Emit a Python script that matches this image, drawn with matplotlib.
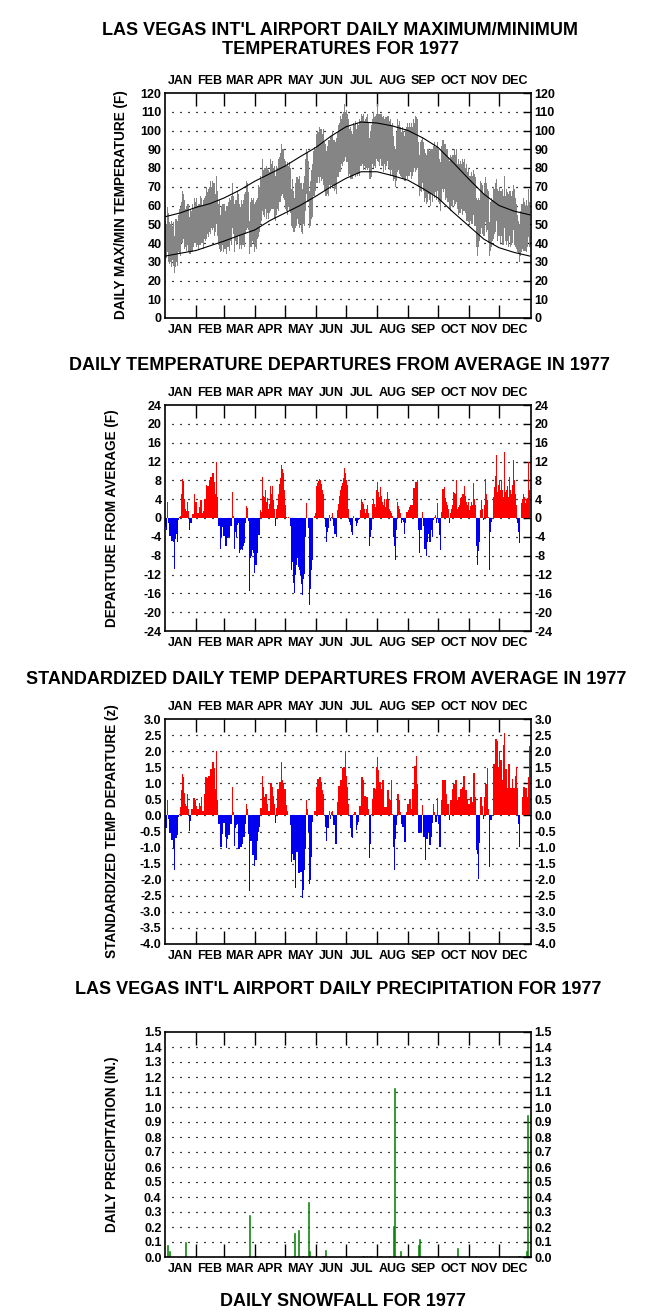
import matplotlib
matplotlib.use("Agg")
import matplotlib.pyplot as plt
import numpy as np

plt.rcParams['font.family'] = ['Liberation Sans', 'DejaVu Sans']
plt.rcParams['font.weight'] = 'bold'

# ---------------- DATA ----------------
MONTHS = ["JAN", "FEB", "MAR", "APR", "MAY", "JUN", "JUL", "AUG", "SEP", "OCT", "NOV", "DEC"]
MONTH_LEN = [31, 28, 31, 30, 31, 30, 31, 31, 30, 31, 30, 31]

# Daily maximum / minimum temperature (F)
TMAX = [
    52,50,59,56,51,50,52,49,51,44,53,53,52,55,58,59,62,68,66,63,58,60,61,61,54,58,57,61,58,64,62,
    64,59,61,61,65,64,60,63,64,65,70,67,69,70,73,70,73,72,72,66,76,68,61,63,55,60,61,61,
    61,57,60,60,62,64,63,65,72,65,61,63,63,68,66,61,59,63,61,63,66,67,73,72,67,52,62,64,63,64,61,
    62,63,64,71,70,76,74,85,79,80,80,81,80,79,78,85,82,84,80,81,76,81,80,85,86,88,93,90,90,85,
    84,81,83,81,83,80,69,74,68,64,72,75,75,74,76,72,72,69,72,76,85,90,88,84,68,73,79,82,89,91,90,
    98,100,99,102,101,101,98,101,94,93,89,92,95,95,97,97,100,95,95,94,96,99,103,104,108,106,109,110,114,110,
    111,109,106,101,102,100,98,104,103,105,101,104,103,106,105,109,108,109,105,106,107,109,104,96,100,103,106,110,107,108,109,
    114,109,109,109,109,107,108,106,107,107,108,108,105,106,103,104,97,92,90,99,106,103,105,102,99,102,100,97,101,102,104,
    102,104,102,104,102,106,104,108,107,106,94,87,94,95,96,94,90,88,87,90,90,89,90,90,90,92,94,91,91,94,
    90,85,83,92,95,95,93,93,90,90,86,84,87,86,87,87,90,87,90,82,85,82,84,82,85,83,85,80,82,78,80,
    76,76,78,76,79,77,75,64,63,64,63,73,72,71,66,72,75,72,69,68,51,62,64,63,70,69,72,74,69,68,
    70,68,68,69,65,76,65,69,67,66,68,68,65,68,71,69,64,61,55,52,50,57,61,61,64,62,60,63,60,69,62,
]
TMIN = [
    31,32,35,30,29,30,27,31,28,24,27,30,28,35,34,33,40,40,42,37,38,36,39,35,34,34,35,35,38,40,40,
    38,39,37,39,39,40,40,37,42,41,42,45,43,46,45,48,47,48,44,46,50,44,39,37,35,36,39,35,
    37,37,34,38,38,36,41,39,48,45,35,41,39,40,44,37,39,37,39,39,38,45,47,48,47,34,38,38,41,40,35,
    38,37,42,43,46,50,52,57,55,54,58,53,56,53,56,57,58,58,58,53,52,55,58,57,62,62,65,66,64,63,
    58,57,55,59,57,56,49,48,46,46,48,49,53,50,48,50,46,45,50,49,57,66,62,62,48,49,53,54,65,65,68,
    72,72,75,72,75,73,74,71,68,65,65,66,65,71,69,71,70,71,68,69,66,75,75,78,78,82,81,83,84,86,
    83,83,76,77,74,74,74,76,77,75,77,76,77,76,81,81,82,79,81,79,80,79,80,74,74,75,82,80,81,80,85,
    84,83,81,85,81,81,78,82,79,81,84,80,79,76,79,76,73,74,70,73,78,79,77,76,75,74,74,73,73,76,74,
    76,76,78,74,76,78,80,78,79,80,70,65,68,67,72,68,62,64,61,62,66,63,60,66,62,66,64,67,63,68,
    62,61,57,62,69,67,69,63,64,62,62,58,57,60,59,63,60,61,62,58,55,56,56,58,55,57,57,56,52,52,51,
    50,52,50,50,55,49,49,38,33,38,41,45,48,45,44,44,51,46,47,40,33,36,38,41,42,45,46,52,41,44,
    44,40,44,39,39,48,41,39,41,38,44,38,39,40,47,39,38,37,35,34,30,33,35,37,36,36,36,35,38,43,38,
]

# Normal max / min temperature curves (day of year, F)
NORM_DAY = [0, 15, 31, 45, 59, 74, 90, 105, 120, 135, 151, 166, 181, 196, 212, 227,
            243, 258, 273, 288, 304, 319, 334, 349, 365]
NORM_MAX = [54, 56, 59, 61, 64, 68, 73, 77, 81, 86, 91, 97, 102, 104.5, 104, 102.5,
            100, 96, 91, 83, 74, 66, 60, 57, 55]
NORM_MIN = [33, 34.5, 36, 38.5, 41, 44, 47, 52, 56, 60, 65, 70, 74.5, 78, 78, 76,
            73.5, 69, 64, 56.5, 49, 42, 37.5, 35, 33]

# Daily mean temperature departure from average (F)
DEP = [
    -2,-2.5,3.4,-1,-3.8,-3.8,-4.8,-4.8,-5,-10.8,-4.5,-3.5,-5,-0.5,0.3,0.5,5.2,8.2,7.8,4,2,1.5,3.4,1.5,-2.5,-1,-1,0.8,0.8,5,3.5,
    3.5,1,1,2.4,3.8,3.8,1,1.5,4,4,7,6.7,6.7,8,8.8,8.8,9.5,9.5,7.7,5.2,12,4.5,-1.7,-1.7,-6.5,-4,-2,-3.8,
    -3.8,-6,-6,-4.3,-4,-4,-1.7,-1.7,5.6,0.5,-6.5,-3,-4,-1.5,-1,-7.4,-6.8,-6.5,-6.7,-6,-5.4,-1.1,2.5,2.2,-0.7,-15.5,-8.6,-8,-6.8,-7.5,-11.6,
    -10,-10,-7.5,-3.6,-3.6,1.6,1.2,8.7,4.7,4.5,6,3.5,4.2,2,3,6.7,5,6.7,3.8,2,-1.8,2,2.8,5,7.2,8.4,11.3,10.5,9.5,6,
    2.8,0.3,0,0.2,0,-1.8,-11,-9.3,-13.8,-16,-12,-10,-8.6,-10.4,-11,-12,-14,-16.4,-13,-11.8,-4,3.1,0,-2.2,-18.5,-15,-11,-9,0,0.5,1,
    6.7,7.5,7.8,8.2,8,7.2,6,5.2,0,-2,-5,-3,-2.2,0.6,-0.6,0.3,1,-1.8,-3.3,-3.5,-4,1.7,3,4.7,6,6.7,7.5,8.4,10.6,9.5,
    8,7,2,-0.8,-1.5,-2.9,-3.6,0.4,0,-0.6,-1.8,-1,-0.5,-0.3,1.7,4,3.5,3,2,1,2,2.8,1,-6,-4,-2.5,3,4,3,2.4,6,
    7.7,5.5,4.5,6.5,4.7,3.5,2.8,4,2.4,4,5.6,3.8,2,1.5,1,0.4,-4,-6,-9,-2.5,3.4,2.5,2,1,-1.1,-0.5,-0.8,-3.3,-1,1.3,1.3,
    1.8,2.4,2.8,2.8,2.8,6.3,6.3,7.7,7.7,8,-2.5,-7.5,-2.5,-2.5,1.3,-1.8,-6.5,-6.5,-8,-5,-3.3,-5,-5,-2.5,-4,-0.5,0.3,0.6,-1.1,3.1,
    -1,-3.6,-6.7,1.3,6.2,6.2,6.5,4.2,3.5,2.8,2,-1,1,2,2.8,5.6,5.4,5.2,8,2,2.4,2.8,4.2,4.5,5,5.2,6.7,4.7,3.5,2.8,3.5,
    1.7,2.5,3.5,2.8,7.5,4,2.8,-6,-10,-7,-5,1.8,3.8,2,-0.5,2.8,8.2,5,3.8,0.2,-11,-3,-0.8,0,4.4,6.5,9,13.3,5.6,7,
    8,6,8,6,4.5,14,5.6,6,6.7,4.5,8.7,6,5.1,7,12.3,8,5,2.8,-1.1,-3,-5.4,0,3.1,4,5.2,4.5,3.1,4,4.2,12,6,
]

# Standardized daily temperature departure (z)
ZDEP = [
    -0.4,-0.4,0.47,-0.1,-0.55,-0.55,-0.75,-0.75,-1.0,-1.69,-0.7,-0.7,-0.6,-0.05,0.05,0.25,0.8,1.3,1.2,0.7,0.35,0.3,0.67,0.2,-0.47,-0.18,0.2,0.2,0.55,0.55,0.47,
    0.3,0.2,0.2,0.4,0.3,0.57,0.15,0.15,0.67,1.19,1.19,1.17,1.24,1.24,1.45,1.45,1.66,1.66,1.48,0.83,2.0,0.47,-0.26,-0.26,-0.98,-0.98,-0.57,-0.24,
    -0.24,-0.67,-1.0,-0.72,-0.62,-0.62,-0.26,-0.26,0.9,0.1,-0.96,-0.4,-0.3,-0.26,-1.04,-1.04,-0.98,-0.98,-0.88,-0.67,-0.67,-0.26,0.36,0.2,-0.57,-2.35,-0.78,-0.78,-1.24,-1.24,-1.58,
    -1.38,-1.38,-0.78,-0.5,-0.36,0.24,0.24,1.24,0.9,0.57,0.67,0.67,0.36,0.15,0.15,1.0,1.0,0.9,0.6,0.36,-0.24,0.24,0.83,0.83,1.04,1.04,1.66,1.1,1.0,0.83,
    0.83,0.31,0.15,0,0,-0.31,-1.45,-1.19,-1.4,-1.4,-2.25,-1.14,-1.14,-1.8,-1.8,-1.76,-1.76,-2.56,-2.33,-1.71,-1.04,0.47,0.2,-0.5,-2.12,-2.0,-1.29,-0.2,0,0.15,0.15,
    0.9,1.14,1.14,1.19,1.19,1.04,0.8,0.67,0,-0.36,-0.78,-0.4,-0.4,0.15,-0.1,0.1,0.15,-0.31,-0.31,-0.88,-0.88,0.41,0.93,0.93,1.1,1.1,1.48,1.5,1.5,2.0,
    1.24,0.9,0.36,0,-0.4,-0.67,-0.7,0.05,0.1,0.1,-0.45,-0.3,-0.2,0.28,0.28,1.2,1.2,1.1,0.62,0.62,0.57,0.57,0.2,-1.32,-0.9,0.05,0.52,0.86,0.86,0.83,1.5,
    1.82,1.4,1.04,1.04,0.83,1.1,1.1,0.26,0.26,0.26,0.78,0.78,0.47,0.47,1.1,0.05,-0.98,-1.71,-0.72,-0.3,0.67,0.67,0.47,0.1,-0.26,-0.36,-0.36,-0.83,-0.83,0.1,0.36,
    0.36,0.52,0.52,0.2,0.83,0.83,1.55,1.55,1.84,0.98,-0.55,-0.55,-0.52,-0.52,0.31,-0.67,-0.67,-1.38,-0.72,-0.72,-0.52,-0.93,-0.93,-0.67,-0.24,0.36,0.1,-0.2,-0.2,0.55,
    -0.26,-0.98,-0.98,0.47,1.1,1.1,1.1,1.1,0.67,0.36,0.36,-0.15,0.47,0.47,0.83,0.98,0.98,1.1,1.1,0.47,0.57,0.57,0.83,0.83,0.88,1.24,1.24,0.78,0.78,0.52,0.36,
    0.36,0.57,0.57,0.41,1.31,1.31,0.57,-1.09,-1.19,-1.99,-0.86,0.57,0.57,0.3,-0.1,0.57,0.98,0.98,1.47,0.2,-1.6,-0.15,-0.15,0,1.6,1.6,2.38,2.38,2.33,1.52,
    2.0,1.71,1.71,1.1,2.2,2.57,1.45,1.45,0.86,1.6,1.6,0.86,0.86,1.14,0.86,0.86,1.24,1.5,0.86,-0.26,-0.98,0,0,0.57,0.9,0.9,0.86,0.86,0.57,1.2,2.15,
]

# Daily precipitation (day of year index, inches)
PRCP_DAY = [2, 4, 20, 83, 84, 91, 128, 129, 132, 133, 137, 143, 144, 157, 159, 160,
            183, 197, 198, 201, 205, 206, 215, 224, 228, 229, 235, 253, 254, 292,
            310, 353, 354, 361, 362, 363]
PRCP_IN = [0.08, 0.04, 0.10, 0.01, 0.28, 0.01, 0.01, 0.16, 0.01, 0.18, 0.01, 0.37, 0.04, 0.01, 0.01, 0.05,
           0.005, 0.01, 0.01, 0.01, 0.01, 0.01, 0.005, 0.01, 0.21, 1.13, 0.04, 0.08, 0.12, 0.06,
           0.01, 0.01, 0.01, 0.04, 0.95, 0.01]

# ---------------- FIGURE ----------------
W, H = 668, 1316
fig = plt.figure(figsize=(W / 100, H / 100), dpi=100)

edges = np.concatenate([[0], np.cumsum(MONTH_LEN)])
mids = (edges[:-1] + edges[1:]) / 2.0
days = np.arange(len(DEP)) + 0.5

FS = 9
LFS = 9.8
TFS = 13


def make_axes(top, bottom):
    return fig.add_axes([165 / W, 1 - bottom / H, 366 / W, (bottom - top) / H])


def style(ax, ylo, yhi, yticks, fmt, top_labels=True):
    ax.set_xlim(0, 366)
    ax.set_ylim(ylo, yhi)
    ax.set_xticks(mids)
    ax.set_xticklabels(MONTHS)
    ax.set_xticks(edges[1:-1], minor=True)
    ax.tick_params(axis='x', which='major', length=0, top=False, bottom=False,
                   labeltop=top_labels, labelbottom=True, labelsize=FS, pad=4.5)
    ax.tick_params(axis='x', which='minor', direction='in', length=9.5, width=1.0,
                   top=True, bottom=True, color='black')
    ax.set_yticks(yticks)
    ax.set_yticklabels([fmt(v) for v in yticks])
    ax.tick_params(axis='y', which='major', direction='in', left=False, right=True,
                   labelleft=True, labelright=True, length=6, width=1.0,
                   labelsize=FS, pad=2.5)
    for lab in ax.get_xticklabels() + ax.get_yticklabels():
        lab.set_fontweight('bold')
    for y in yticks[1:-1]:
        ax.axhline(y, color='black', lw=0.9, ls=(1, (1.2, 5.2)), zorder=0.5)
    for s in ax.spines.values():
        s.set_linewidth(1.2)
        s.set_color('black')


def ylab(x, ycen, text):
    fig.text(x / W, 1 - ycen / H, text, rotation=90, ha='center', va='center',
             fontsize=LFS, fontweight='bold')


def title(x, y, text):
    fig.text(x / W, 1 - y / H, text, ha='center', va='center', fontsize=TFS,
             fontweight='bold', linespacing=1.22)


tmax = np.array(TMAX, dtype=float)
tmin = np.array(TMIN, dtype=float)

# Panel 1 : max / min temperatures
ax1 = make_axes(93, 318)
ax1.bar(days, tmax - tmin, bottom=tmin, width=1.0, color='#858585', linewidth=0, zorder=2)
ax1.plot(NORM_DAY, NORM_MAX, color='black', lw=0.8, zorder=3)
ax1.plot(NORM_DAY, NORM_MIN, color='black', lw=0.8, zorder=3)
style(ax1, 0, 120, list(range(0, 121, 10)), lambda v: f"{v:d}")
title(340, 40, "LAS VEGAS INT'L AIRPORT DAILY MAXIMUM/MINIMUM\nTEMPERATURES FOR 1977")
ylab(121, 205, "DAILY MAX/MIN TEMPERATURE (F)")

# Panel 2 : departures
dep = np.array(DEP, dtype=float)
cols = np.where(dep >= 0, '#ff0000', '#0000ee')
ax2 = make_axes(405, 631)
ax2.bar(days, dep, width=1.0, color=cols, linewidth=0, zorder=2)
style(ax2, -24, 24, list(range(-24, 25, 4)), lambda v: f"{v:d}")
title(339, 366, "DAILY TEMPERATURE DEPARTURES FROM AVERAGE IN 1977")
ylab(112, 518, "DEPARTURE FROM AVERAGE (F)")

# Panel 3 : standardized departures
z = np.array(ZDEP, dtype=float)
colsz = np.where(z >= 0, '#ff0000', '#0000ee')
ax3 = make_axes(719, 944)
ax3.bar(days, z, width=1.0, color=colsz, linewidth=0, zorder=2)
style(ax3, -4.0, 3.0, list(np.arange(-4.0, 3.01, 0.5)), lambda v: f"{v:.1f}")
title(326, 679, "STANDARDIZED DAILY TEMP DEPARTURES FROM AVERAGE IN 1977")
ylab(112, 831, "STANDARDIZED TEMP DEPARTURE (z)")

# Panel 4 : precipitation
ax4 = make_axes(1032, 1257)
ax4.bar(np.array(PRCP_DAY) + 0.5, PRCP_IN, width=0.9, color='#008000',
        edgecolor='#008000', linewidth=0.4, zorder=2)
style(ax4, 0, 1.5, list(np.arange(0, 1.501, 0.1)), lambda v: f"{v:.1f}", top_labels=False)
title(338, 989, "LAS VEGAS INT'L AIRPORT DAILY PRECIPITATION FOR 1977")
ylab(112, 1144, "DAILY PRECIPITATION (IN.)")

title(343, 1301, "DAILY SNOWFALL FOR 1977")

fig.savefig("out.png", dpi=100)
